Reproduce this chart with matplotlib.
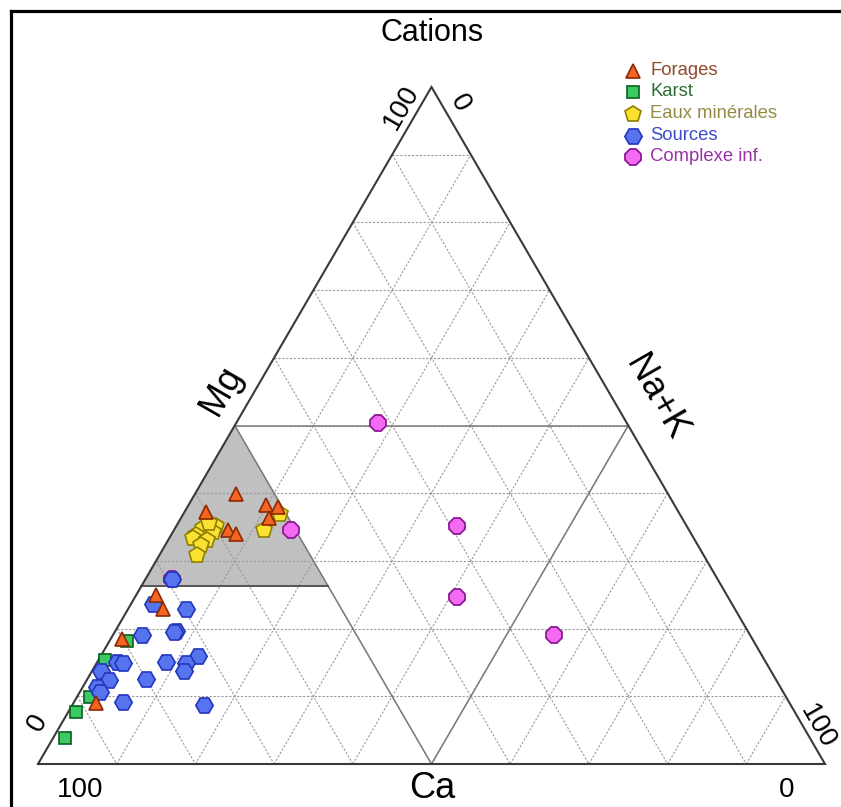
import numpy as np
import matplotlib
matplotlib.use("Agg")
import matplotlib.pyplot as plt
from matplotlib.lines import Line2D

plt.rcParams['font.family'] = ['Liberation Sans', 'DejaVu Sans']

# ---- data: (Ca, Mg, Na+K) in % ----
forages_ca = [54.9, 60.0, 51.9, 50.5, 52.5, 58.6, 57.9, 72.5, 72.7, 80.1, 88.1]
forages_mg = [39.9, 37.2, 38.3, 38.0, 36.4, 34.6, 34.0, 25.0, 22.9, 18.5, 9.0]
forages_nak = [5.2, 2.7, 9.8, 11.5, 11.1, 6.9, 8.2, 2.5, 4.4, 1.4, 2.9]

karst_ca = [79.6, 83.8, 88.4, 91.3, 94.7]
karst_mg = [18.2, 15.4, 9.9, 7.7, 3.8]
karst_nak = [2.2, 0.8, 1.7, 1.0, 1.5]

eaux_ca = [50.8, 54.0, 60.6, 59.8, 61.6, 60.6, 62.9, 63.6, 62.0, 63.0, 64.4, 60.5]
eaux_mg = [36.9, 34.6, 35.1, 35.1, 34.8, 34.3, 33.8, 33.4, 33.1, 32.3, 30.9, 35.6]
eaux_nak = [12.3, 11.4, 4.3, 5.1, 3.6, 5.1, 3.2, 3.0, 4.9, 4.6, 4.7, 3.9]

sources_ca = [73.5, 69.8, 77.3, 72.6, 73.0, 82.4, 81.8, 76.2, 71.7, 73.7, 74.6,
              85.1, 84.9, 80.0, 86.9, 86.9, 84.6, 74.6, 69.3]
sources_mg = [23.7, 22.9, 19.0, 19.6, 19.5, 15.1, 15.0, 15.1, 16.0, 14.9, 13.7,
              13.7, 12.4, 12.5, 11.4, 10.7, 9.1, 8.7, 27.3]
sources_nak = [2.8, 7.3, 3.7, 7.7, 7.5, 2.5, 3.3, 8.7, 12.3, 11.4, 11.7,
               1.2, 2.8, 7.5, 1.8, 2.5, 6.3, 16.7, 3.3]

complexe_ca = [31.6, 50.6, 29.2, 34.4, 25.0, 69.3]
complexe_mg = [50.4, 34.6, 35.2, 24.6, 19.0, 27.3]
complexe_nak = [18.0, 14.9, 35.6, 41.0, 56.1, 3.3]

series_labels = ["Forages", "Karst", "Eaux minérales", "Sources", "Complexe inf."]
grid_ticks = [10, 20, 30, 40, 50, 60, 70, 80, 90]
zone_mg_low = 26.3

S3 = np.sqrt(3) / 2


def tern(ca, mg, nak):
    ca, mg, nak = (np.asarray(v, dtype=float) for v in (ca, mg, nak))
    tot = ca + mg + nak
    m = mg / tot
    n = nak / tot
    return n + m / 2, m * S3


W, H = 841, 807
fig = plt.figure(figsize=(W / 100, H / 100), dpi=100)
ax = fig.add_axes([0, 0, 1, 1])
# pixel mapping: x=0 -> 38px, x=1 -> 825px ; y=0 -> 764px, top vertex -> 87px
sx = 787.0
sy = 677.0 / S3
ax.set_xlim(-38 / sx, (W - 38) / sx)
ax.set_ylim(-(H - 764) / sy, 764 / sy)
ax.axis('off')


def P(px, py):
    return px / W, 1 - py / H


# frame (left and top)
fig.add_artist(Line2D([11 / W, 11 / W], [0, 1 - 11 / H], color='black', lw=2.3))
fig.add_artist(Line2D([11 / W, 1], [1 - 11 / H, 1 - 11 / H], color='black', lw=2.3))

# gray zone
gx, gy = tern([50, 100 - zone_mg_low, 50], [50, zone_mg_low, zone_mg_low],
              [0, 0, 50 - zone_mg_low])
ax.fill(gx, gy, color='#C0C0C0', zorder=1, lw=0)

# dashed grid
gkw = dict(color='#9a9a9a', lw=0.8, linestyle=(0, (2, 1.5)), zorder=2)
for k in grid_ticks:
    x, y = tern([100 - k, 0], [k, k], [0, 100 - k]); ax.plot(x, y, **gkw)
    x, y = tern([k, k], [100 - k, 0], [0, 100 - k]); ax.plot(x, y, **gkw)
    x, y = tern([100 - k, 0], [0, 100 - k], [k, k]); ax.plot(x, y, **gkw)

# solid zone lines
skw = dict(color='#7a7a7a', lw=1.1, zorder=2.5)
x, y = tern([50, 0], [50, 50], [0, 50]); ax.plot(x, y, **skw)
x, y = tern([50, 50], [50, 0], [0, 50]); ax.plot(x, y, **skw)
x, y = tern([50, 0], [0, 50], [50, 50]); ax.plot(x, y, **skw)
x, y = tern([100 - zone_mg_low, 50], [zone_mg_low, zone_mg_low], [0, 50 - zone_mg_low])
ax.plot(x, y, color='#555555', lw=1.4, zorder=2.5)

# triangle outline
x, y = tern([100, 0, 0, 100], [0, 100, 0, 0], [0, 0, 100, 0])
ax.plot(x, y, color='#3a3a3a', lw=1.5, zorder=3, solid_joinstyle='miter')

styles = [
    dict(marker='^', ms=10.5, mfc='#F26522', mec='#8B2A00', mew=1.2, zorder=8),
    dict(marker='s', ms=9, mfc='#3CCB63', mec='#0B5E22', mew=1.2, zorder=5),
    dict(marker='p', ms=12, mfc='#FBE232', mec='#8E8000', mew=1.2, zorder=6),
    dict(marker='H', ms=12.5, mfc='#5674EE', mec='#2436C0', mew=1.2, zorder=7),
    dict(marker='8', ms=12.5, mfc='#F46AF2', mec='#8C1A96', mew=1.3, zorder=4),
]
text_colors = ['#8F4A2A', '#2E6E33', '#958B45', '#3C4CC8', '#9A2FA9']

data = [
    (forages_ca, forages_mg, forages_nak),
    (karst_ca, karst_mg, karst_nak),
    (eaux_ca, eaux_mg, eaux_nak),
    (sources_ca, sources_mg, sources_nak),
    (complexe_ca, complexe_mg, complexe_nak),
]
for (ca, mg, nak), st in zip(data, styles):
    x, y = tern(ca, mg, nak)
    ax.plot(x, y, linestyle='none', **st)

# legend (manual)
leg_y = [70.7, 92, 113.5, 135.5, 156.7]
for lab, st, tc, yy in zip(series_labels, styles, text_colors, leg_y):
    st2 = dict(st); st2.pop('zorder')
    ax.plot(*P(633, yy), linestyle='none', transform=ax.transAxes, clip_on=False, **st2)
    ax.text(*P(650, yy), lab, color=tc, fontsize=13.3, ha='left', va='center',
            transform=ax.transAxes)

# titles and axis labels
ax.text(*P(432, 33), "Cations", fontsize=22, ha='center', va='center', transform=ax.transAxes)
ax.text(*P(221, 391), "Mg", fontsize=26, rotation=60, rotation_mode='anchor',
        ha='center', va='center', transform=ax.transAxes)
ax.text(*P(656, 398), "Na+K", fontsize=26, rotation=-60, rotation_mode='anchor',
        ha='center', va='center', transform=ax.transAxes)
ax.text(*P(432, 806), "Ca", fontsize=26, ha='center', va='bottom', transform=ax.transAxes)

# tick labels
tk = dict(fontsize=20, ha='center', va='center', rotation_mode='anchor', transform=ax.transAxes)
ax.text(*P(80, 790), "100", **tk)
ax.text(*P(787, 790), "0", **tk)
ax.text(*P(38, 723), "0", rotation=60, **tk)
ax.text(*P(401, 107), "100", rotation=60, **tk)
ax.text(*P(460, 103), "0", rotation=-60, **tk)
ax.text(*P(818, 727), "100", rotation=-60, **tk)

fig.savefig("out.png", dpi=100, facecolor='white')
